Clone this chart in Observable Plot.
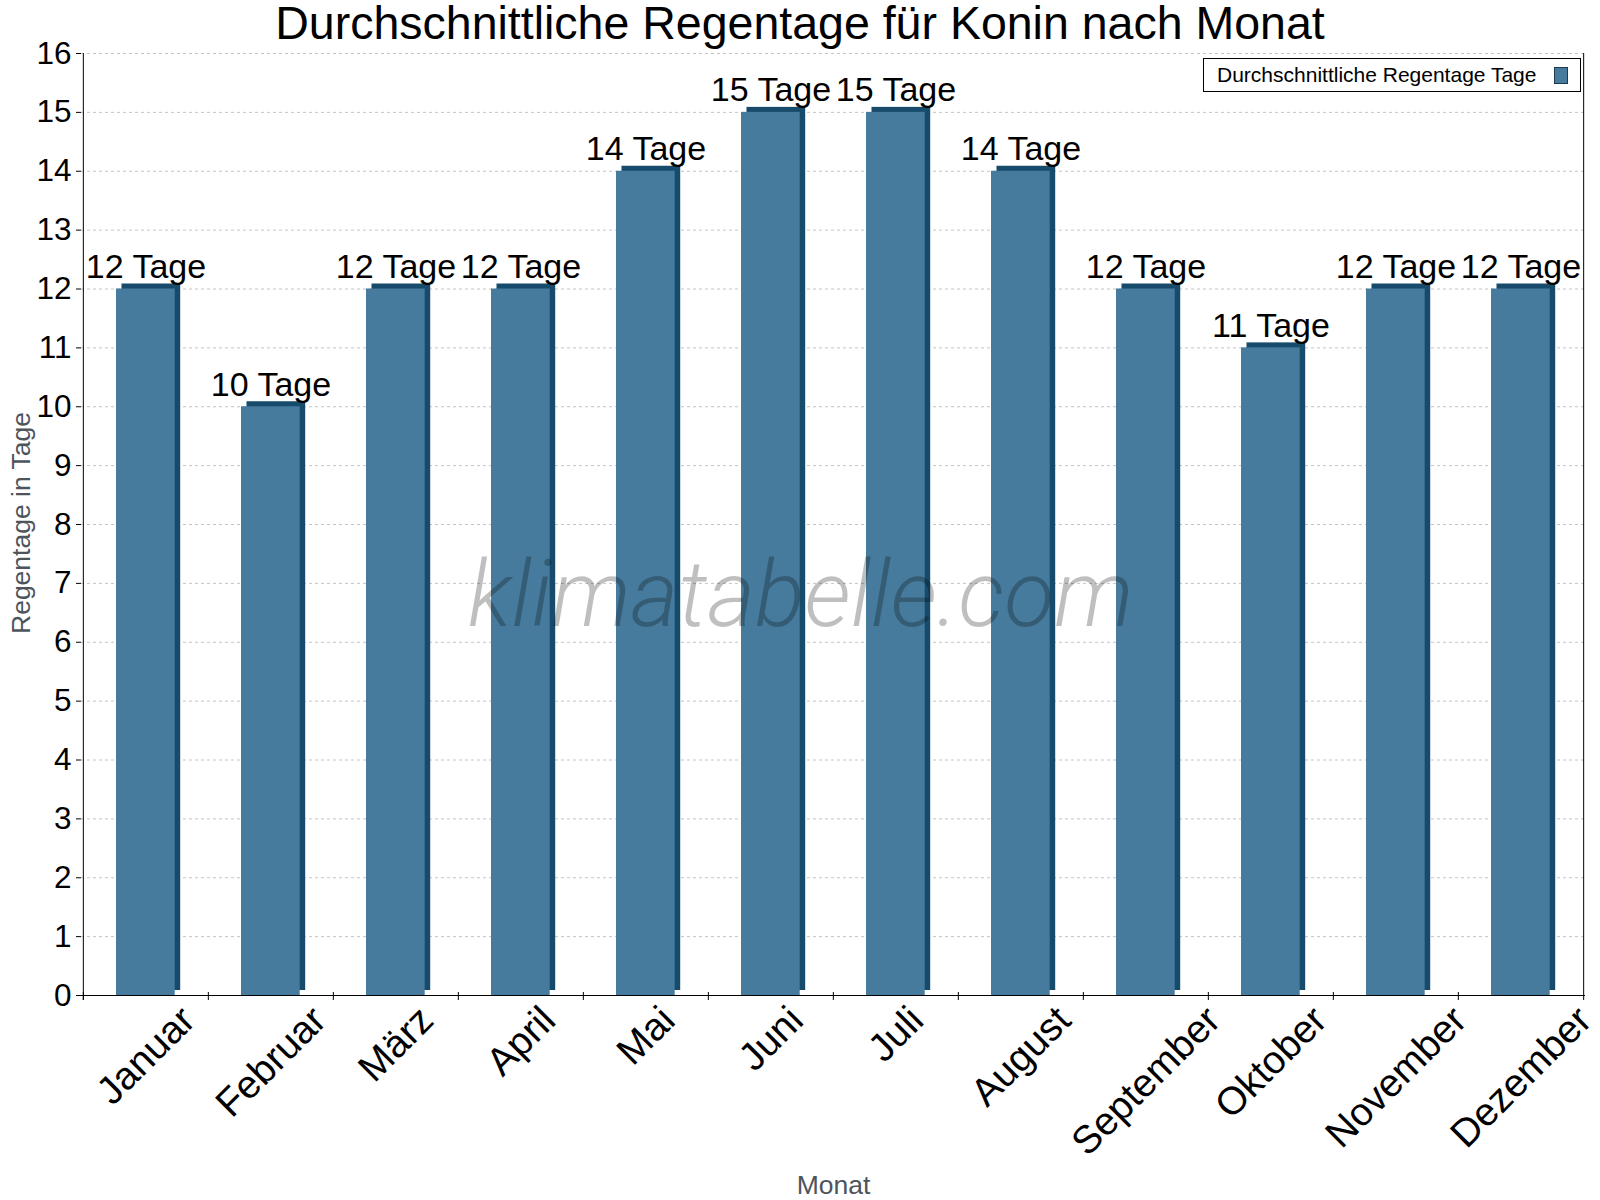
<!DOCTYPE html>
<html>
<head>
<meta charset="utf-8">
<script src="https://cdn.jsdelivr.net/npm/d3@7"></script>
<script src="https://cdn.jsdelivr.net/npm/@observablehq/plot@0.6"></script>
<style>
  html, body { margin: 0; padding: 0; background: #fff; }
  #wrap { position: relative; width: 1600px; height: 1200px; font-family: "Liberation Sans", Arial, sans-serif; }
  #title { position: absolute; left: 0; top: 0; width: 1600px; text-align: center; font-size: 46.5px; line-height: 46px; color: #000; }
  #legend { position: absolute; left: 1203px; top: 58px; width: 376px; height: 32px; border: 1px solid #000; background: #fff; box-sizing: content-box; }
  #legend .lt { position: absolute; left: 13px; top: 5px; font-size: 21px; line-height: 22px; color: #000; white-space: nowrap; }
  #legend .sw { position: absolute; left: 350px; top: 8px; width: 12px; height: 15px; background: #467b9d; border: 1px solid #1d3b50; }
  svg { position: absolute; left: 0; top: 0; }
</style>
</head>
<body>
<div id="wrap">
  <div id="chart"></div>
  <div id="title">Durchschnittliche Regentage für Konin nach Monat</div>
  <div id="legend"><span class="lt">Durchschnittliche Regentage Tage</span><span class="sw"></span></div>
</div>
<script>
const months = ["Januar", "Februar", "März", "April", "Mai", "Juni", "Juli", "August", "September", "Oktober", "November", "Dezember"];
const rainDays = [12, 10, 12, 12, 14, 15, 15, 14, 12, 11, 12, 12];
const yTicks = d3.range(0, 17);
const gridTicks = d3.range(1, 17);
const unit = "Tage";

const data = months.map((m, i) => ({month: m, days: rainDays[i]}));

const W = 1600, H = 1200, mL = 81, mR = 15, mT = 53, mB = 205;
const bw = (W - mL - mR) / months.length;
const front = "#467b9d", dark = "#174b6c";

// measure month label lengths so the rotated labels sit under their bars like the original
const monthFont = 39;
const ctx = document.createElement("canvas").getContext("2d");
ctx.font = `${monthFont}px "Liberation Sans", Arial, sans-serif`;
const monthMarks = months.map(m => {
  const L = ctx.measureText(m).width;
  return Plot.text([m], {x: d => d, frameAnchor: "bottom", rotate: -45, textAnchor: "end", lineAnchor: "bottom",
    fontSize: monthFont, dx: 9 + 0.3535 * L, dy: 27, fill: "#000"});
});

const chart = Plot.plot({
  width: W, height: H,
  marginLeft: mL, marginRight: mR, marginTop: mT, marginBottom: mB,
  style: {fontFamily: "'Liberation Sans', Arial, sans-serif", background: "transparent", color: "#000", overflow: "visible"},
  x: {domain: months, padding: 0, axis: null},
  y: {domain: [0, 16], axis: null},
  marks: [
    Plot.ruleY(gridTicks, {stroke: "#c4c4c4", strokeDasharray: "3,3"}),
    // 3D depth (back face)
    Plot.barY(data, {x: "month", y: "days", fill: dark, insetLeft: 38.5, insetRight: 27.8, dy: -5}),
    // front face
    Plot.barY(data, {x: "month", y: "days", fill: front, insetLeft: 33, insetRight: 33.3}),
    // watermark
    Plot.text(["klimatabelle.com"], {frameAnchor: "middle", dx: -33, dy: 101, lineAnchor: "bottom", fontSize: 92, fontStyle: "italic", fontWeight: 300, fontFamily: "Roboto", fill: "#000", fillOpacity: 0.25}),
    // axes lines
    Plot.ruleY([0], {stroke: "#000", strokeWidth: 1.2}),
    Plot.ruleX([months[0]], {stroke: "#000", dx: -bw / 2, insetBottom: -5}),
    Plot.ruleX([months[months.length - 1]], {stroke: "#000", dx: bw / 2, insetBottom: -5}),
    Plot.axisX({tickSize: 8, dx: -bw / 2, dy: -3, tickFormat: () => "", label: null, stroke: "#000"}),
    Plot.axisY({ticks: yTicks, tickSize: 5, tickPadding: 5, fontSize: 31.5, label: null, fill: "#000"}),
    // month labels
    ...monthMarks,
    // value labels
    Plot.text(data, {x: "month", y: "days", text: d => `${d.days} ${unit}`, lineAnchor: "bottom", dy: -11, dx: 0, fontSize: 34, fill: "#000"}),
    // axis titles
    Plot.text(["Regentage in Tage"], {frameAnchor: "left", rotate: -90, textAnchor: "middle", lineAnchor: "middle", dx: -60, dy: -1.5, fontSize: 26.5, fill: "#4d545c"}),
    Plot.text(["Monat"], {frameAnchor: "bottom", dy: 198, lineAnchor: "bottom", fontSize: 26.5, fill: "#4d545c"})
  ]
});
document.getElementById("chart").appendChild(chart);
</script>
</body>
</html>
